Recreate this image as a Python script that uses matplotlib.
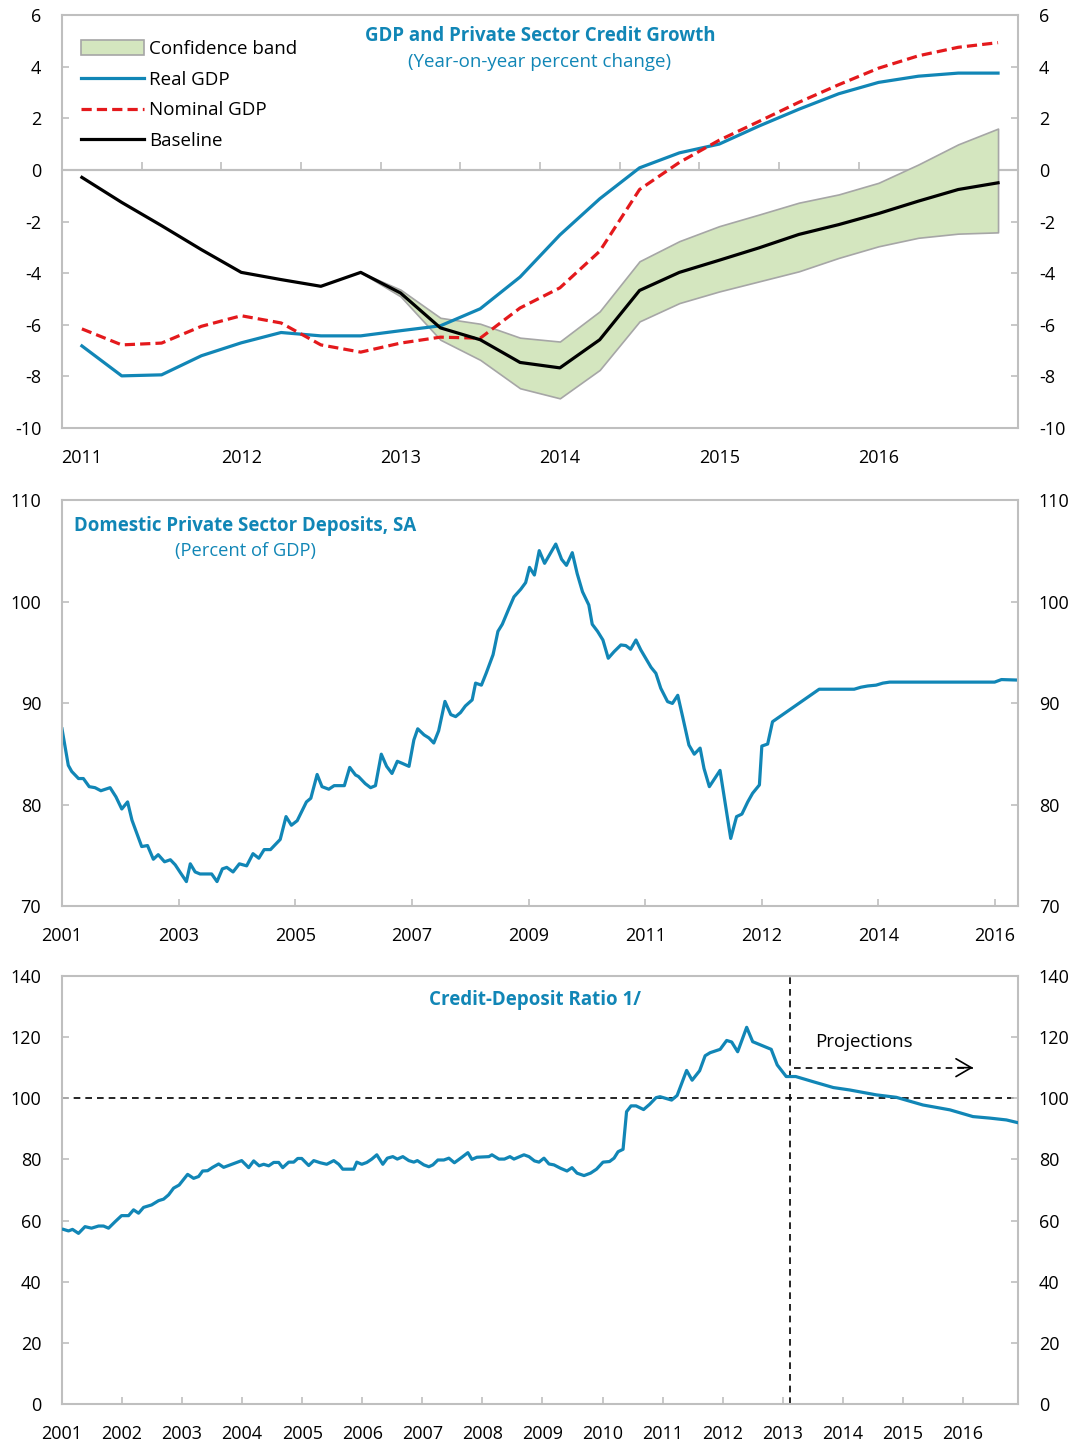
import numpy as np
import matplotlib.pyplot as plt
from matplotlib.patches import Patch
from matplotlib.lines import Line2D

plt.rcParams['font.family'] = ['Open Sans', 'DejaVu Sans']
plt.rcParams['axes.unicode_minus'] = False

BLUE = '#1186B6'
RED = '#E4191C'
GRAY = '#BFBFBF'

# ---- panel 1: quarterly, 2011Q1 - 2016Q4
quarters = np.arange(24)
q_labels = ['2011', '2012', '2013', '2014', '2015', '2016']
real_gdp = [-6.82, -7.98, -7.94, -7.2, -6.7, -6.3, -6.43, -6.43, -6.23, -6.04, -5.38, -4.15,
            -2.52, -1.12, 0.08, 0.66, 1.0, 1.7, 2.35, 2.95, 3.39, 3.63, 3.75, 3.75]
nominal_gdp = [-6.16, -6.78, -6.71, -6.06, -5.65, -5.93, -6.78, -7.06, -6.71, -6.48, -6.52, -5.35,
               -4.57, -3.15, -0.76, 0.29, 1.15, 1.88, 2.62, 3.3, 3.94, 4.42, 4.75, 4.93]
baseline = [-0.29, -1.26, -2.16, -3.09, -3.97, -4.25, -4.51, -3.97, -4.77, -6.12, -6.58, -7.46,
            -7.67, -6.58, -4.67, -3.97, -3.5, -3.02, -2.5, -2.12, -1.69, -1.21, -0.76, -0.5]
band_start = 7
band_upper = [-3.97, -4.64, -5.73, -5.96, -6.5, -6.65, -5.48, -3.54, -2.76, -2.18, -1.73,
              -1.27, -0.95, -0.5, 0.21, 0.99, 1.6]
band_lower = [-3.97, -4.9, -6.58, -7.36, -8.46, -8.85, -7.75, -5.87, -5.16, -4.71, -4.32,
              -3.93, -3.41, -2.96, -2.63, -2.47, -2.42]

# ---- panel 2: deposits, percent of GDP (period index)
dep_x = [0, 1.3, 2, 3.4, 4.4, 5.6, 6.8, 8, 9.9, 11.1,
         12.3, 13.5, 14.4, 16.4, 17.6, 18.8, 19.8, 21.1, 22.3, 23.3,
         24.4, 25.6, 26.4, 27.4, 28.4, 30.8, 31.9, 33, 33.9, 35.2,
         36.5, 38, 39.3, 40.5, 41.6, 42.9, 44.9, 46.1, 47.2, 48.4,
         50.3, 51.2, 52.5, 53.5, 54.9, 56, 58.1, 59.2, 60.4, 61,
         62.4, 63.5, 64.5, 65.7, 66.8, 67.9, 69, 70, 71.4, 72.4,
         73.2, 74.5, 75.5, 76.5, 77.5, 78.8, 80, 81, 82, 83,
         84.4, 85.1, 86.3, 87.3, 88.7, 89.7, 90.6, 92, 93, 94.4,
         95.4, 96.2, 97.2, 98.2, 99.3, 101.6, 102.8, 103.8, 105, 106,
         107.1, 108.4, 109.1, 110.2, 111.3, 112.4, 113.6, 115, 116, 117,
         118.1, 119.1, 120.1, 121.2, 122.2, 123.2, 124.6, 125.6, 126.7, 127.7,
         129, 130.1, 131.3, 132.1, 133.2, 135.4, 137.6, 138.8, 139.9, 141.1,
         142.1, 143.5, 144, 145.2, 146.2, 155.8, 163, 164.4, 165.8, 167.5,
         168.9, 170.3, 191.9, 193.3, 196.7]
dep_y = [87.5, 83.9, 83.3, 82.6, 82.6, 81.8, 81.7, 81.4, 81.7, 80.8,
         79.6, 80.3, 78.5, 75.9, 76.0, 74.65, 75.1, 74.4, 74.6, 74.1,
         73.3, 72.45, 74.2, 73.4, 73.2, 73.2, 72.45, 73.7, 73.85, 73.4,
         74.2, 74.0, 75.2, 74.75, 75.6, 75.6, 76.6, 78.85, 78.0, 78.45,
         80.3, 80.66, 83.0, 81.8, 81.55, 81.9, 81.9, 83.7, 82.95, 82.8,
         82.1, 81.7, 81.9, 85.0, 83.8, 83.1, 84.3, 84.1, 83.8, 86.4,
         87.5, 86.9, 86.6, 86.1, 87.3, 90.2, 88.9, 88.7, 89.1, 89.75,
         90.35, 92.0, 91.8, 93.0, 94.8, 97.1, 97.8, 99.4, 100.5, 101.25,
         101.9, 103.4, 102.65, 105.05, 103.8, 105.7, 104.2, 103.6, 104.85, 102.8,
         101.0, 99.7, 97.8, 97.1, 96.25, 94.45, 95.1, 95.76, 95.7, 95.34,
         96.25, 95.27, 94.45, 93.56, 92.97, 91.5, 90.18, 90.0, 90.8, 88.7,
         85.9, 85.0, 85.6, 83.6, 81.8, 83.4, 76.7, 78.85, 79.1, 80.3,
         81.15, 81.97, 85.8, 86.0, 88.2, 91.4, 91.4, 91.6, 91.72, 91.8,
         92.0, 92.1, 92.1, 92.35, 92.3]
dep_ticks = [0, 24, 48, 72, 96, 120, 144, 168, 192]
dep_labels = ['2001', '2003', '2005', '2007', '2009', '2011', '2012', '2014', '2016']

# ---- panel 3: credit-deposit ratio, monthly from Jan 2001
cd_x = [0.3, 1.3, 2.1, 3.3, 4.6, 5.9, 7.3, 8.3, 9.3, 10.6,
        11.9, 13.3, 14.3, 15.3, 16.3, 17.9, 19.3, 20.3, 21.3, 22.3,
        23.4, 25.1, 26.3, 27.3, 28.1, 29.1, 30.1, 31.3, 32.3, 35.9,
        37.3, 38.3, 39.4, 40.3, 41.3, 42.3, 43.3, 44.1, 45.3, 46.3,
        47.1, 47.9, 49.3, 50.3, 51.6, 52.9, 54.3, 55.3, 56.1, 58.3,
        58.9, 59.9, 60.9, 61.9, 62.9, 64.1, 65, 66.1, 67, 68.1,
        69.3, 70.3, 71, 72.3, 73.3, 74.1, 75.1, 76.3, 77.3, 78.4,
        79.9, 81.1, 81.9, 82.9, 85.3, 85.9, 87.3, 88.4, 89.5, 90.3,
        92.3, 93.3, 94.4, 95.3, 96.3, 97.3, 98.3, 99.6, 100.9, 101.9,
        102.9, 104.3, 105.6, 106.8, 108.1, 109.4, 110.3, 111.1, 112.1, 112.8,
        113.7, 114.7, 116.2, 117.4, 118.7, 119.5, 121.8, 122.9, 124.8, 125.9,
        127.4, 128.5, 129.5, 131.5, 132.8, 133.8, 135, 136.8, 138, 140.2,
        141.7, 142.9, 144.7, 146.6, 150.1, 154.1, 157.4, 162.7, 166.7, 172,
        177.4, 182, 185.4, 188.7, 191]
cd_y = [57.1, 56.6, 57.1, 55.8, 58.0, 57.5, 58.2, 58.2, 57.5, 59.6,
        61.6, 61.6, 63.5, 62.4, 64.3, 65.1, 66.5, 67.0, 68.4, 70.6,
        71.6, 75.1, 73.8, 74.4, 76.2, 76.3, 77.4, 78.5, 77.4, 79.6,
        77.3, 79.5, 77.9, 78.4, 77.9, 79.0, 79.0, 77.3, 79.1, 79.1,
        80.3, 80.3, 78.0, 79.6, 78.9, 78.4, 79.6, 78.4, 76.8, 76.8,
        79.1, 78.4, 79.0, 80.1, 81.5, 78.4, 80.4, 80.9, 80.1, 80.9,
        79.6, 79.1, 79.6, 78.2, 77.6, 78.2, 79.8, 79.8, 80.4, 78.9,
        80.7, 82.2, 80.0, 80.7, 80.9, 81.5, 80.1, 80.1, 80.9, 80.1,
        81.5, 80.9, 79.5, 79.1, 80.4, 78.5, 78.2, 77.1, 76.2, 77.3,
        75.5, 74.7, 75.5, 76.8, 79.1, 79.3, 80.4, 82.5, 83.3, 95.6,
        97.5, 97.5, 96.3, 98.0, 100.2, 100.5, 99.4, 100.9, 109.1, 105.9,
        109.0, 113.9, 114.9, 116.0, 118.9, 118.4, 115.2, 123.2, 118.5, 117.0,
        116.0, 110.9, 107.1, 107.1, 105.4, 103.5, 102.7, 101.1, 100.3, 97.8,
        96.2, 94.0, 93.5, 92.9, 92.0]
cd_ticks = list(range(0, 181, 12))
cd_labels = [str(y) for y in range(2001, 2017)]
proj_start = 145.5
proj_arrow_end = 182
proj_level = 110


def style_axes(ax, ymin, ymax, ystep):
    ax.set_ylim(ymin, ymax)
    ax.set_yticks(np.arange(ymin, ymax + ystep / 2, ystep))
    for s in ax.spines.values():
        s.set_color(GRAY)
        s.set_linewidth(1.5)
    ax.tick_params(axis='y', which='both', direction='in', length=5, color=GRAY,
                   width=1.2, labelsize=13, pad=15, left=True, right=True,
                   labelleft=True, labelright=True)
    ax.tick_params(axis='x', labelsize=13, pad=15, color=GRAY, width=1.2)


fig = plt.figure(figsize=(10.78, 14.45), dpi=100)

# ---------------- panel 1 ----------------
ax1 = fig.add_axes([0.0575, 0.7038, 0.8868, 0.2858])
style_axes(ax1, -10, 6, 2)
ax1.set_xlim(-0.5, 23.5)
ax1.set_xticks(range(0, 24, 4))
ax1.set_xticklabels(q_labels)
ax1.tick_params(axis='x', length=0)
ax1.axhline(0, color=GRAY, lw=1.5, zorder=1)
sec = ax1.secondary_xaxis((0 - (-10)) / 16)
sec.set_xticks(np.arange(1.5, 23, 2))
sec.tick_params(length=6, color=GRAY, width=1.2, labeltop=False, labelbottom=False)
for s in sec.spines.values():
    s.set_color(GRAY)
    s.set_linewidth(1.5)

bx = quarters[band_start:]
ax1.fill_between(bx, band_lower, band_upper, facecolor='#D4E6BF', edgecolor='#A6A6A6',
                 lw=1.2, zorder=2)
ax1.plot(quarters, real_gdp, color=BLUE, lw=2.3, zorder=3)
ax1.plot(quarters, nominal_gdp, color=RED, lw=2.3, ls=(0, (3.2, 1.6)), zorder=4)
ax1.plot(quarters, baseline, color='black', lw=2.3, zorder=5)

handles = [Patch(facecolor='#D4E6BF', edgecolor='#A6A6A6', lw=1.2),
           Line2D([], [], color=BLUE, lw=2.3),
           Line2D([], [], color=RED, lw=2.3, ls=(0, (3.2, 1.6))),
           Line2D([], [], color='black', lw=2.3)]
ax1.legend(handles, ['Confidence band', 'Real GDP', 'Nominal GDP', 'Baseline'],
           loc='upper left', bbox_to_anchor=(0.0, 0.985), frameon=False, fontsize=13.5,
           handlelength=3.4, handleheight=0.8, handletextpad=0.25, labelspacing=0.68,
           borderaxespad=0.6)
ax1.text(0.5, 0.949, 'GDP and Private Sector Credit Growth', transform=ax1.transAxes,
         ha='center', va='center', color=BLUE, fontsize=13.4, fontweight='bold')
ax1.text(0.5, 0.886, '(Year-on-year percent change)', transform=ax1.transAxes,
         ha='center', va='center', color=BLUE, fontsize=13.5)

# ---------------- panel 2 ----------------
ax2 = fig.add_axes([0.0575, 0.3727, 0.8868, 0.2810])
style_axes(ax2, 70, 110, 10)
ax2.set_xlim(0, dep_x[-1])
ax2.set_xticks(dep_ticks)
ax2.set_xticklabels(dep_labels)
ax2.tick_params(axis='x', direction='in', length=5)
ax2.plot(dep_x, dep_y, color=BLUE, lw=2.3)
ax2.text(0.192, 0.937, 'Domestic Private Sector Deposits, SA', transform=ax2.transAxes,
         ha='center', va='center', color=BLUE, fontsize=13.4, fontweight='bold')
ax2.text(0.192, 0.876, '(Percent of GDP)', transform=ax2.transAxes,
         ha='center', va='center', color=BLUE, fontsize=13.2)

# ---------------- panel 3 ----------------
ax3 = fig.add_axes([0.0575, 0.0284, 0.8868, 0.2962])
style_axes(ax3, 0, 140, 20)
ax3.set_xlim(0, 191)
ax3.set_xticks(cd_ticks)
ax3.set_xticklabels(cd_labels)
ax3.tick_params(axis='x', direction='in', length=5)
ax3.axhline(100, color='black', lw=1.2, ls=(0, (4, 3)), zorder=1)
ax3.axvline(proj_start, color='black', lw=1.2, ls=(0, (4, 3)), zorder=1)
ax3.plot(cd_x, cd_y, color=BLUE, lw=2.3, zorder=3)
# projections arrow: dashed shaft plus open head
ax3.hlines(proj_level, proj_start + 0.7, proj_arrow_end, color='black', lw=1.2,
           ls=(0, (4, 3)))
ax3.annotate('', xy=(proj_arrow_end, proj_level), xytext=(proj_arrow_end - 3, proj_level),
             arrowprops=dict(arrowstyle='->,head_length=0.55,head_width=0.32', color='black',
                             lw=1.2, mutation_scale=20, shrinkA=0, shrinkB=0))
ax3.text(150.5, 118.5, 'Projections', ha='left', va='center', fontsize=13.5)
ax3.text(0.495, 0.944, 'Credit-Deposit Ratio 1/', transform=ax3.transAxes,
         ha='center', va='center', color=BLUE, fontsize=13.5, fontweight='bold')

fig.savefig('out.png', dpi=100)
